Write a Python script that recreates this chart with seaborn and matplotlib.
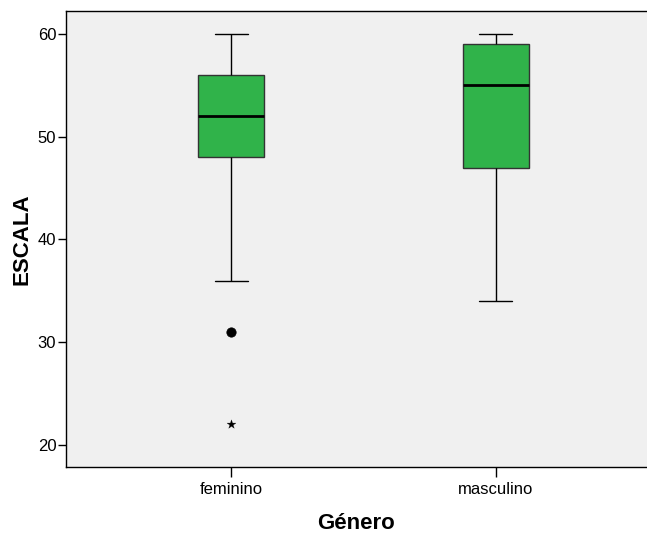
import matplotlib
matplotlib.use("Agg")
import matplotlib.pyplot as plt
import seaborn as sns
import pandas as pd

# Data (reconstructed so the box statistics match the picture)
categories = ["feminino", "masculino"]
feminino_vals = [22, 31, 36, 48, 50, 51, 52, 54, 55, 56, 58, 59, 60]
masculino_vals = [34, 40, 45, 47, 50, 53, 55, 57, 58, 59, 60, 60, 60]
# outliers as marked in the picture: circle = outlier, star = extreme
outlier_cat = ["feminino"]
outlier_val = [31]
extreme_cat = ["feminino"]
extreme_val = [22]
yticks = [20, 30, 40, 50, 60]

df = pd.DataFrame({
    "Género": ["feminino"] * len(feminino_vals) + ["masculino"] * len(masculino_vals),
    "ESCALA": feminino_vals + masculino_vals,
})

sns.set_style("white")
plt.rcParams["font.family"] = ["Liberation Sans", "DejaVu Sans"]
plt.rcParams["text.color"] = "black"
plt.rcParams["axes.labelcolor"] = "black"
plt.rcParams["xtick.color"] = "black"
plt.rcParams["ytick.color"] = "black"

fig = plt.figure(figsize=(6.47, 5.34), dpi=100)
ax = fig.add_axes([0.102, 0.1255, 0.898, 0.854])
ax.set_facecolor("#F0F0F0")

sns.boxplot(data=df, x="Género", y="ESCALA", order=categories, ax=ax,
            color="#30B34A", saturation=1, width=0.249, showfliers=False,
            linecolor="black", linewidth=1.0,
            boxprops=dict(edgecolor="#333333"),
            medianprops=dict(color="black", linewidth=2.0),
            whiskerprops=dict(color="black", linewidth=1.0),
            capprops=dict(color="black", linewidth=1.0))

sns.scatterplot(x=outlier_cat, y=outlier_val, ax=ax, marker="o", s=45,
                color="black", edgecolor="black", zorder=5, legend=False)
sns.scatterplot(x=extreme_cat, y=extreme_val, ax=ax, marker="*", s=45,
                color="black", edgecolor="black", linewidth=0.2, zorder=5, legend=False)

ax.set_xlim(-0.623, 1.57)
ax.set_ylim(17.86, 62.24)
ax.set_yticks(yticks)
ax.set_yticklabels([str(v) for v in yticks])

for s in ["left", "top", "bottom"]:
    ax.spines[s].set_visible(True)
    ax.spines[s].set_color("black")
    ax.spines[s].set_linewidth(1.0)
ax.spines["right"].set_visible(False)

ax.tick_params(axis="y", which="major", length=6, width=1, color="black",
               labelcolor="black", labelsize=12, pad=1, left=True)
ax.tick_params(axis="x", which="major", length=7, width=1, color="black",
               labelcolor="black", labelsize=12, pad=4, bottom=True)

ax.set_xlabel("Género", fontsize=16, fontweight="bold", labelpad=11, color="black")
ax.set_ylabel("ESCALA", fontsize=16, fontweight="bold", labelpad=4, color="black")

fig.savefig("out.png", dpi=100)
